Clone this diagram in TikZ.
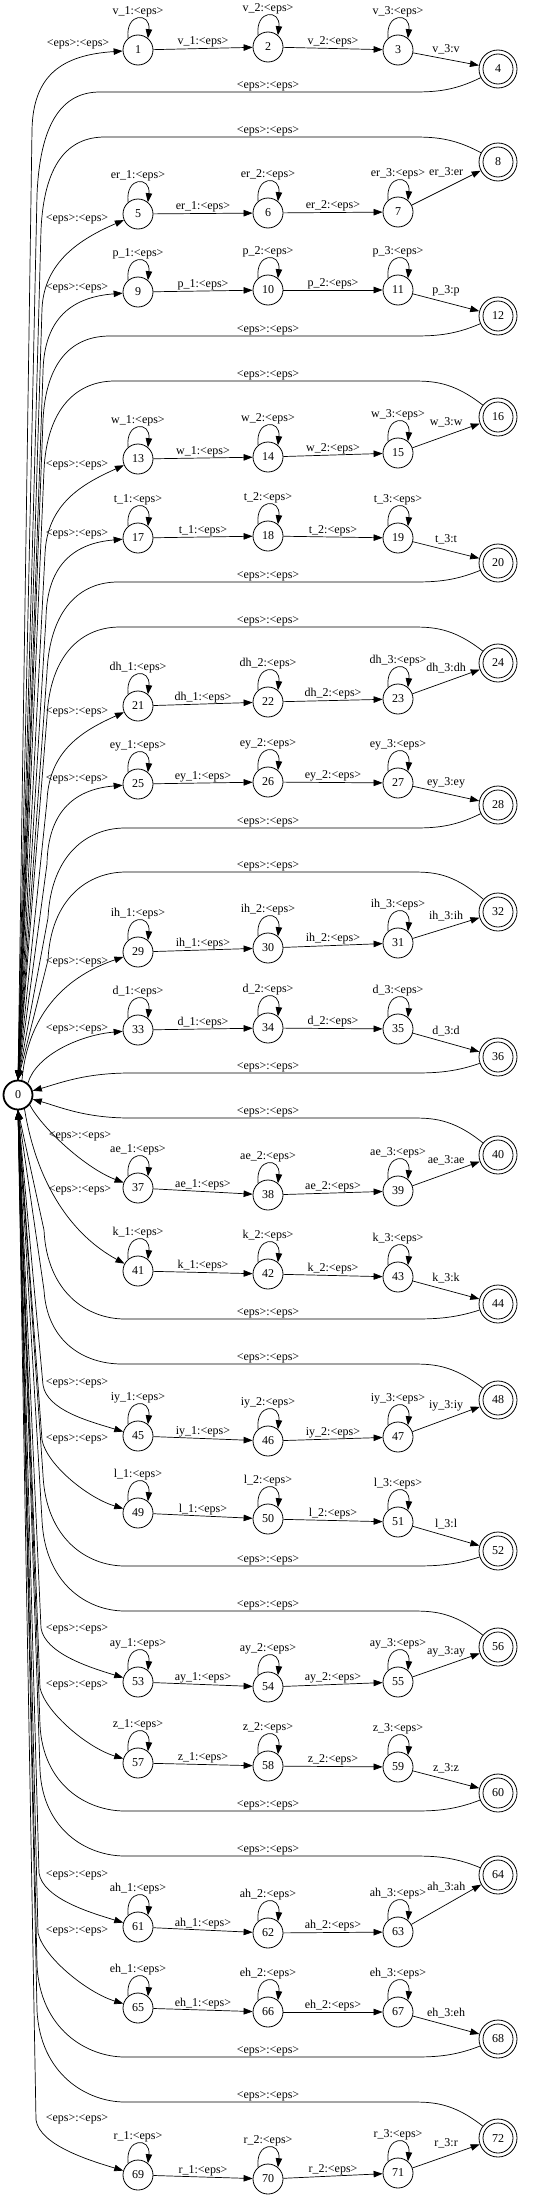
\documentclass[tikz,border=0pt]{standalone}
\usepackage{fontspec}
\setmainfont{Liberation Serif}
\usetikzlibrary{arrows.meta}
\newcommand\fsz{\fontsize{12}{14}\selectfont}
\newcommand\epsl{<eps>}
\newcommand\EE{<eps>:<eps>}
\tikzset{
 st/.style={circle, draw, line width=0.8pt, minimum size=30pt, inner sep=0pt, font=\fsz},
 fin/.style={circle, draw, line width=0.8pt, minimum size=38pt, inner sep=0pt, font=\fsz,
   path picture={\draw[line width=0.8pt] (path picture bounding box.center) circle[radius=15pt];}},
 startst/.style={circle, draw, line width=1.8pt, minimum size=29pt, inner sep=0pt, font=\fsz},
 edge/.style={line width=0.7pt, -{Triangle[length=9pt,width=6.5pt]}},
 lab/.style={font=\fsz, inner sep=1pt},
}
% group: #1 symbol, #2-#5 node numbers, #6-#9 y positions
\newcommand\grp[9]{%
 \node[st] (n#2) at (138,#6) {#2};
 \node[st] (n#3) at (268,#7) {#3};
 \node[st] (n#4) at (398,#8) {#4};
 \node[fin] (n#5) at (498,#9) {#5};
 \draw[edge] (n#2) -- node[lab,above] {#1\_1:\epsl} (n#3);
 \draw[edge] (n#3) -- node[lab,above] {#1\_2:\epsl} (n#4);
 \draw[edge] (n#4) -- node[lab,above,yshift={abs(#9-#8)*0.19}] {#1\_3:#1} (n#5);
 \draw[edge] (n#2.130) .. controls +(-3,-26) and +(3,-26) .. (n#2.50) node[lab,above,pos=0.5] {#1\_1:\epsl};
 \draw[edge] (n#3.130) .. controls +(-3,-26) and +(3,-26) .. (n#3.50) node[lab,above,pos=0.5] {#1\_2:\epsl};
 \draw[edge] (n#4.130) .. controls +(-3,-26) and +(3,-26) .. (n#4.50) node[lab,above,pos=0.5] {#1\_3:\epsl};
}
% forward edge from 0: #1 anchor, #2 target, #3 turn point, #4 #5 controls, #6 #7 label
\newcommand\fwd[7]{%
 \draw[edge] (n0.#1) -- #3 .. controls #4 and #5 .. (n#2) node[lab] at (#6,#7) {\EE};}
% return edge to 0: #1 final, #2 yh, #3 xh, #4 xv, #5 yv, #6 anchor
\newcommand\ret[6]{%
 \draw[edge] (n#1) .. controls (452,#2) and (432,#2) .. (410,#2) -- (#3,#2)
   .. controls (#3-38,#2) and ({#4+3},{#2+0.3*(#5-#2)}) .. (#4,#5) -- (n0.#6)
   node[lab,above] at (268,#2) {\EE};}
\begin{document}
\begin{tikzpicture}[x=1pt,y=-1pt]
\useasboundingbox (0,0) rectangle (536,2200);
\node[startst] (n0) at (18,1095) {0};
\grp{v}{1}{2}{3}{4}{50}{47}{50}{69}
\grp{er}{5}{6}{7}{8}{214}{213}{212}{162}
\grp{p}{9}{10}{11}{12}{292}{290}{290}{316}
\grp{w}{13}{14}{15}{16}{459}{457}{453}{417}
\grp{t}{17}{18}{19}{20}{538}{536}{538}{563}
\grp{dh}{21}{22}{23}{24}{706}{702}{699}{663}
\grp{ey}{25}{26}{27}{28}{784}{782}{783}{805}
\grp{ih}{29}{30}{31}{32}{952}{948}{943}{912}
\grp{d}{33}{34}{35}{36}{1030}{1028}{1029}{1057}
\grp{ae}{37}{38}{39}{40}{1188}{1195}{1191}{1155}
\grp{k}{41}{42}{43}{44}{1271}{1274}{1277}{1304}
\grp{iy}{45}{46}{47}{48}{1436}{1441}{1437}{1400}
\grp{l}{49}{50}{51}{52}{1513}{1519}{1522}{1551}
\grp{ay}{53}{54}{55}{56}{1682}{1687}{1682}{1647}
\grp{z}{57}{58}{59}{60}{1763}{1766}{1767}{1793}
\grp{ah}{61}{62}{63}{64}{1927}{1933}{1932}{1875}
\grp{eh}{65}{66}{67}{68}{2008}{2012}{2012}{2039}
\grp{r}{69}{70}{71}{72}{2175}{2179}{2173}{2138}
% forward edges above 0
\fwd{north}{1}{(32,130)}{(33,75)}{(62,55)}{78}{44}
\fwd{north}{5}{(42,309)}{(44,262)}{(80,239)}{77}{219}
\fwd{north}{9}{(43,372)}{(44,317)}{(73,297)}{77}{288}
\fwd{north}{13}{(45,554)}{(47,504)}{(82,484)}{77}{465}
\fwd{north}{17}{(46,618)}{(47,563)}{(76,543)}{77}{534}
\fwd{north}{21}{(47,801)}{(49,751)}{(82,731)}{77}{712}
\fwd{north}{25}{(47,864)}{(48,809)}{(77,789)}{77}{779}
\draw[edge] (n0.75) .. controls (28,1010) and (70,975) .. (n29) node[lab] at (77,962) {\EE};
\draw[edge] (n0.50) .. controls (36,1055) and (80,1035) .. (n33) node[lab] at (77,1029) {\EE};
% returns above 0
\ret{4}{92}{100}{37}{195}{north}
\ret{8}{137}{105}{41}{230}{north}
\ret{12}{336}{110}{43}{420}{north}
\ret{16}{381}{115}{44}{470}{north}
\ret{20}{582}{118}{47}{672}{north}
\ret{24}{627}{120}{47}{717}{north}
\ret{28}{828}{125}{48}{918}{north}
\ret{32}{872}{126}{48}{960}{north}
% returns to the right side of 0
\draw[edge] (n36) .. controls (452,1073) and (432,1073) .. (410,1073) -- (130,1073)
  .. controls (85,1073) and (60,1083) .. (n0) node[lab,above] at (268,1073) {\EE};
\draw[edge] (n40) .. controls (452,1118) and (432,1118) .. (410,1118) -- (130,1118)
  .. controls (85,1118) and (60,1107) .. (n0) node[lab,above] at (268,1118) {\EE};
% forward edges below 0
\draw[edge] (n0.-40) .. controls (42,1128) and (85,1168) .. (n37) node[lab] at (80,1136) {\EE};
\draw[edge] (n0.-65) .. controls (37,1185) and (72,1235) .. (n41) node[lab] at (80,1190) {\EE};
\fwd{south}{45}{(43,1385)}{(47,1410)}{(88,1421)}{77}{1383}
\fwd{south}{49}{(42,1440)}{(47,1465)}{(88,1498)}{77}{1439}
\fwd{south}{53}{(41,1628)}{(45,1653)}{(88,1667)}{77}{1629}
\fwd{south}{57}{(40,1688)}{(46,1713)}{(88,1748)}{77}{1685}
\fwd{south}{61}{(39,1873)}{(43,1898)}{(88,1912)}{77}{1875}
\fwd{south}{65}{(38,1933)}{(44,1958)}{(88,1993)}{77}{1931}
\fwd{south}{69}{(36,2120)}{(40,2145)}{(88,2160)}{77}{2119}
% returns below 0
\ret{44}{1319}{125}{44}{1230}{south}
\ret{48}{1364}{122}{44}{1290}{south}
\ret{52}{1566}{125}{43}{1475}{south}
\ret{56}{1611}{125}{42}{1520}{south}
\ret{60}{1811}{125}{40}{1725}{south}
\ret{64}{1856}{125}{40}{1770}{south}
\ret{68}{2057}{125}{37}{1965}{south}
\ret{72}{2102}{125}{37}{2010}{south}
\end{tikzpicture}
\end{document}
